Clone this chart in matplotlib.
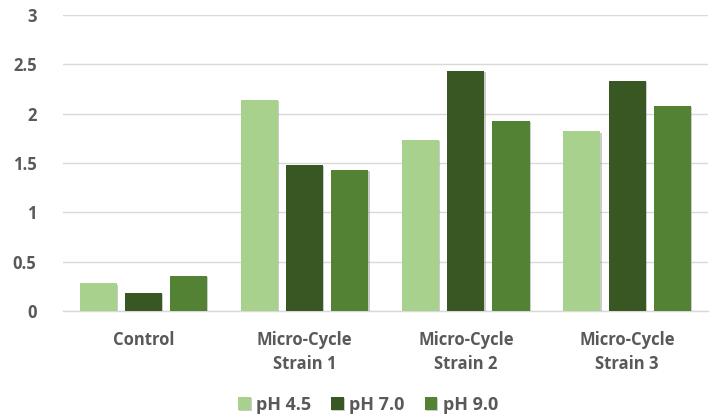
import matplotlib
matplotlib.use("Agg")
import matplotlib.pyplot as plt
import matplotlib.patheffects as pe
import numpy as np

categories = ["Control", "Micro-Cycle\nStrain 1", "Micro-Cycle\nStrain 2", "Micro-Cycle\nStrain 3"]
series_names = ["pH 4.5", "pH 7.0", "pH 9.0"]
ph45 = [0.28, 2.14, 1.73, 1.82]
ph70 = [0.18, 1.48, 2.43, 2.33]
ph90 = [0.36, 1.43, 1.93, 2.08]
y_ticks = [0, 0.5, 1, 1.5, 2, 2.5, 3]
y_tick_labels = ["0", "0.5", "1", "1.5", "2", "2.5", "3"]

colors = ["#A9D18E", "#385723", "#548235"]
text_color = "#595959"

plt.rcParams['font.family'] = ['Open Sans', 'DejaVu Sans']

fig = plt.figure(figsize=(7.10, 4.17), dpi=100)
ax = fig.add_axes([0.0887, 0.254, 0.908, 0.71])

x = np.arange(len(categories))
slot = 0.28
width = 0.23
shadow = [pe.SimplePatchShadow(offset=(0.8, -0.8), shadow_rgbFace="#8c8c8c", alpha=0.45), pe.Normal()]
for i, (vals, name) in enumerate(zip([ph45, ph70, ph90], series_names)):
    bars = ax.bar(x + (i - 1) * slot, vals, width, color=colors[i], label=name, zorder=3)
    for b in bars:
        b.set_path_effects(shadow)

ax.set_xlim(-0.5, len(categories) - 0.5)
ax.set_ylim(0, 3)
ax.set_yticks(y_ticks)
ax.set_yticklabels(y_tick_labels)
ax.set_xticks(x)
ax.set_xticklabels(categories, linespacing=1.45)
ax.grid(axis='y', color="#D9D9D9", linewidth=1, zorder=0)
ax.set_axisbelow(True)
for s in ["top", "right", "left"]:
    ax.spines[s].set_visible(False)
ax.spines["bottom"].set_color("#D9D9D9")
ax.spines["bottom"].set_linewidth(1)
ax.tick_params(axis='both', length=0, colors=text_color, labelsize=12)
ax.tick_params(axis='y', pad=19)
ax.tick_params(axis='x', pad=14)
for lbl in ax.get_xticklabels() + ax.get_yticklabels():
    lbl.set_fontweight('bold')

leg = fig.legend(loc='center', bbox_to_anchor=(368 / 710, 0.029), ncol=3, frameon=False,
                 handlelength=0.7, handleheight=0.7, handletextpad=0.3, columnspacing=1.1,
                 prop={'weight': 'bold', 'size': 13})
for t in leg.get_texts():
    t.set_color(text_color)

fig.savefig("out.png", dpi=100)
